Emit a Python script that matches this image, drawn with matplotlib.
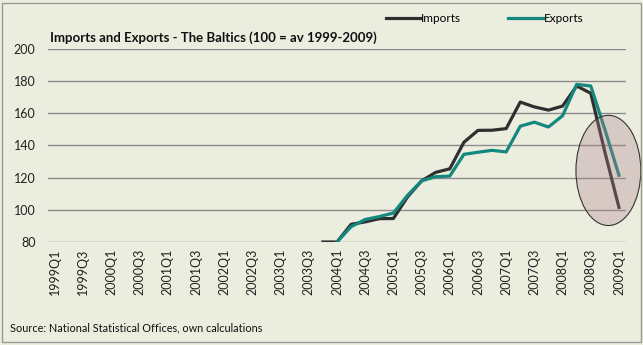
import numpy as np
import matplotlib
matplotlib.use("Agg")
import matplotlib.pyplot as plt
from matplotlib.patches import Ellipse, Rectangle

plt.rcParams['font.family'] = ['Lato', 'DejaVu Sans']

# quarters 1999Q1 .. 2009Q1
quarters = [f"{y}Q{q}" for y in range(1999, 2010) for q in range(1, 5)][:41]

# values start in 2003Q4 (imports) / 2004Q1 (exports)
imports_vals = [80, 80, 91, 92.5, 94.5, 94.6, 108, 118, 123.3, 125.5, 142,
                149.4, 149.5, 150.5, 167, 164, 162, 164.5, 177, 172.5, 136, 101.5]
exports_vals = [80, 89.5, 94, 95.8, 98, 109, 118, 120.6, 121, 134.5, 135.8,
                137, 136, 152, 154.5, 151.5, 158.5, 178, 177, 150, 121.5]

imports = [np.nan] * (41 - len(imports_vals)) + imports_vals
exports = [np.nan] * (41 - len(exports_vals)) + exports_vals

bg = '#EBEEDF'
fig = plt.figure(figsize=(6.43, 3.45), dpi=100, facecolor=bg)
ax = fig.add_axes([48 / 643, 1 - 242 / 345, 578 / 643, 193 / 345])
ax.set_facecolor(bg)

x = np.arange(len(quarters))
ax.plot(x, imports, color='#2F2F2F', lw=2.3, label='Imports', zorder=3)
ax.plot(x, exports, color='#14877E', lw=2.3, label='Exports', zorder=4)

# highlight of the last quarters
centre = (x[-1] - 0.75, 124.5)
ax.add_patch(Ellipse(centre, 4.6, 68.5, facecolor='#B07F8A', alpha=0.33,
                     edgecolor='none', zorder=5, clip_on=False))
ax.add_patch(Ellipse(centre, 4.6, 68.5, facecolor='none',
                     edgecolor='#333333', lw=0.8, zorder=6, clip_on=False))

ax.set_xlim(-0.5, len(quarters) - 0.5)
ax.set_ylim(80, 200)
ax.set_yticks(range(80, 201, 20))
ax.yaxis.grid(True, color='#8C8C8C', lw=1.0)
ax.set_axisbelow(True)
ax.set_xticks(x[::2])
ax.set_xticklabels(quarters[::2], rotation=90, fontsize=9, color='#222222')
ax.tick_params(axis='both', length=0, pad=5)
ax.tick_params(axis='y', labelsize=9, labelcolor='#222222', pad=9)
for s in ax.spines.values():
    s.set_visible(False)

fig.text(50 / 643, 1 - 38 / 345, 'Imports and Exports - The Baltics (100 = av 1999-2009)',
         fontsize=9.5, fontweight='bold', va='center', ha='left', color='#111111')
fig.text(10 / 643, 1 - 328 / 345, 'Source: National Statistical Offices, own calculations',
         fontsize=7.8, va='center', ha='left', color='#111111')

leg = fig.legend(loc='center left', bbox_to_anchor=(375 / 643, 1 - 19 / 345), ncol=2,
                 frameon=False, fontsize=8.5, handlelength=2.9, handletextpad=0.1,
                 columnspacing=4.0)

fig.patches.append(Rectangle((2 / 643, 3 / 345), 639 / 643, 339 / 345, transform=fig.transFigure,
                             fill=False, edgecolor='#9A9A9A', lw=1.0))

fig.savefig('out.png', dpi=100, facecolor=bg)
